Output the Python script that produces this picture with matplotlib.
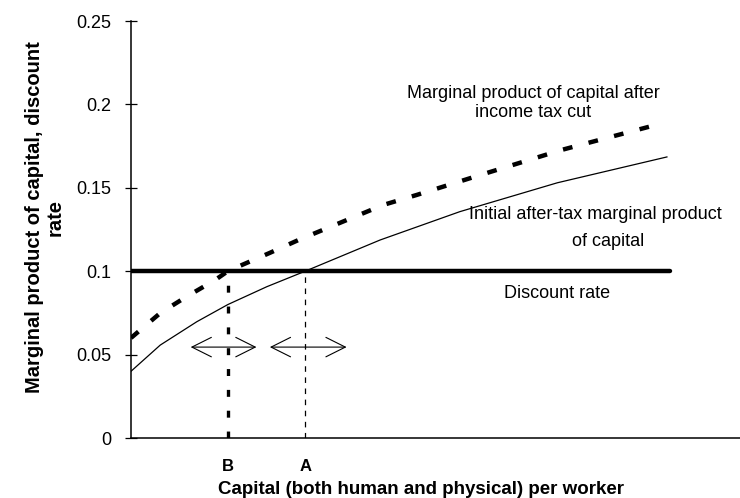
import numpy as np
import matplotlib
matplotlib.use("Agg")
import matplotlib.pyplot as plt

plt.rcParams['font.family'] = ['Liberation Sans', 'DejaVu Sans']
plt.rcParams['lines.scale_dashes'] = False

# capital per worker (arbitrary units) and the two marginal product curves
k_initial = [0, 0.48, 1.08, 1.59, 2.23, 2.86, 4.09, 5.4, 7.0, 8.8]
mpk_initial = [0.040, 0.0557, 0.0697, 0.080, 0.0907, 0.100, 0.1187, 0.1357, 0.153, 0.1685]

k_cut = [0, 0.48, 0.91, 1.38, 1.59, 1.82, 2.28, 2.75, 4.14, 4.69, 5.65, 7.07, 8.6]
mpk_cut = [0.060, 0.0749, 0.0847, 0.0947, 0.100, 0.1037, 0.111, 0.1187, 0.1397, 0.1457, 0.1567, 0.1727, 0.1875]

discount_rate = 0.1
discount_k = [0, 8.85]

k_B = 1.59
k_A = 2.86
point_labels = ['B', 'A']

# double headed arrows (start, end) at height arrow_y
arrows = [(0.98, 2.06), (2.28, 3.54)]
arrow_y = 0.0545

fig = plt.figure(figsize=(7.4, 4.98), dpi=100)
ax = fig.add_axes([131 / 740, 60 / 498, 609 / 740, 417 / 498])

ax.plot(k_initial, mpk_initial, color='black', lw=0.9)
ax.plot(k_cut, mpk_cut, color='black', lw=3.2, dashes=(7, 12))
ax.plot(discount_k, [discount_rate, discount_rate], color='black', lw=3.2, solid_capstyle='round')

# vertical lines at B and A
ax.plot([k_B, k_B], [0, discount_rate], color='black', lw=2.4, dashes=(5, 10))
ax.plot([k_A, k_A], [0, discount_rate], color='black', lw=0.9, dashes=(4, 4))

for a, b in arrows:
    ax.annotate('', xy=(b, arrow_y), xytext=(a, arrow_y),
                arrowprops=dict(arrowstyle='<->, head_length=0.7, head_width=0.35',
                                mutation_scale=20, color='black', lw=0.8,
                                shrinkA=0, shrinkB=0))

ax.text(6.6, 0.2008, 'Marginal product of capital after\nincome tax cut',
        ha='center', va='center', fontsize=13, linespacing=1.2)
ax.text(7.63, 0.1339, 'Initial after-tax marginal product',
        ha='center', va='center', fontsize=13)
ax.text(7.84, 0.1179, 'of capital', ha='center', va='center', fontsize=13)
ax.text(7.0, 0.0869, 'Discount rate', ha='center', va='center', fontsize=13)

ax.set_xlim(0, 10)
ax.set_ylim(0, 0.25)
ax.set_yticks([0, 0.05, 0.1, 0.15, 0.2, 0.25])
ax.set_yticklabels(['0', '0.05', '0.1', '0.15', '0.2', '0.25'], fontsize=13)
ax.tick_params(axis='y', direction='inout', length=8, width=0.9, pad=10)
ax.set_xticks([k_B, k_A])
ax.set_xticklabels(point_labels, fontsize=12, fontweight='bold')
ax.tick_params(axis='x', length=0, pad=15)

ax.spines['top'].set_visible(False)
ax.spines['right'].set_visible(False)
ax.spines['left'].set_linewidth(1.1)
ax.spines['bottom'].set_linewidth(1.1)

ax.set_xlabel('Capital (both human and physical) per worker', fontsize=13.5,
              fontweight='bold')
ax.xaxis.set_label_coords((421 - 131) / 609, -(489 - 438) / 417)
ax.xaxis.label.set_va('center')

fig.text(45 / 740, 1 - 217.5 / 498, 'Marginal product of capital, discount\nrate',
         rotation=90, ha='center', va='center', multialignment='center',
         fontsize=14.5, fontweight='bold', linespacing=1.1)

fig.savefig('out.png', dpi=100)
